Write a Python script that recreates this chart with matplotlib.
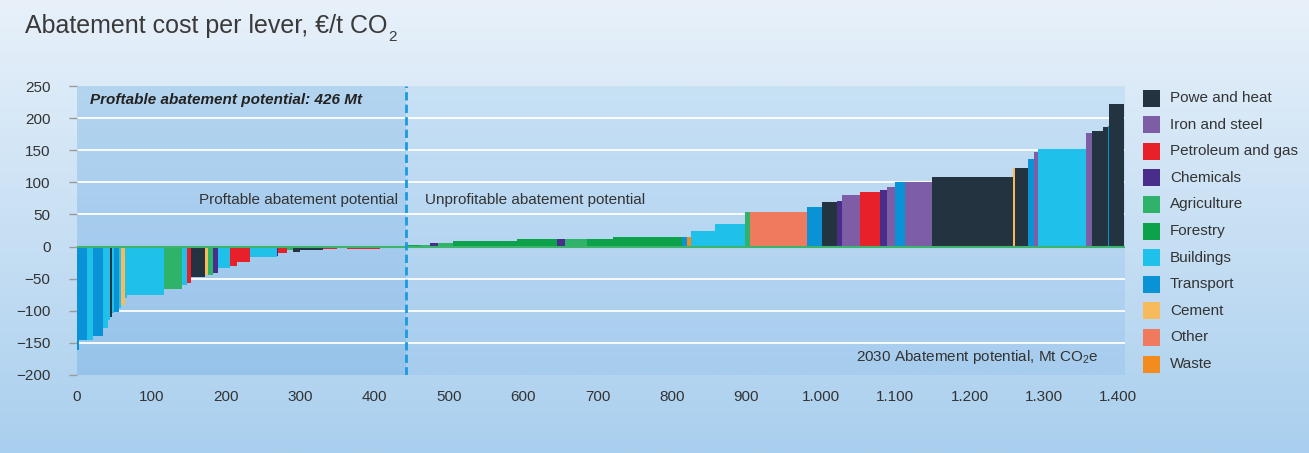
import matplotlib.pyplot as plt
import numpy as np
from matplotlib.colors import LinearSegmentedColormap
from matplotlib.patches import Rectangle

plt.rcParams['font.family'] = ['Liberation Sans', 'DejaVu Sans']
plt.rcParams['mathtext.fontset'] = 'custom'
plt.rcParams['mathtext.rm'] = 'Liberation Sans'
plt.rcParams['mathtext.it'] = 'Liberation Sans:italic'
plt.rcParams['mathtext.bf'] = 'Liberation Sans:bold'

# Levers in cost order: sector, width (Mt CO2e), cost (EUR/t)
sectors = [
    'Transport', 'Transport', 'Buildings', 'Transport', 'Buildings', 'Buildings', 'Power',
    'Buildings', 'Transport', 'Buildings', 'Cement', 'Buildings', 'Buildings', 'Agriculture',
    'Buildings', 'Petroleum', 'Power', 'Cement', 'Agriculture', 'Chemicals', 'Buildings',
    'Petroleum', 'Petroleum', 'Buildings', 'Chemicals', 'Petroleum', 'Agriculture', 'Power',
    'Power', 'Petroleum', 'Agriculture', 'Petroleum', 'Agriculture',
    'Forestry', 'Agriculture', 'Chemicals', 'Agriculture', 'Forestry', 'Forestry', 'Chemicals',
    'Agriculture', 'Forestry', 'Forestry', 'Transport', 'Waste', 'Buildings', 'Buildings',
    'Agriculture', 'Other', 'Transport', 'Power', 'Chemicals', 'Iron', 'Petroleum', 'Chemicals',
    'Iron', 'Transport', 'Iron', 'Power', 'Cement', 'Power', 'Transport', 'Iron', 'Buildings',
    'Iron', 'Power', 'Power', 'Transport', 'Power',
]
widths = [
    3, 10, 8, 14, 7, 3, 2, 3, 7, 2, 5, 3, 50, 24, 7, 5, 19, 4, 7, 7, 16, 9, 18, 36, 1, 12, 8,
    10, 31, 19, 13, 44, 34,
    20, 14, 10, 21, 86, 53, 11, 30, 35, 93, 6, 6, 32, 40, 7, 77, 20, 20, 7, 24, 27, 9, 11,
    13, 37, 109, 2, 18, 7, 6, 64, 8, 16, 6, 2, 19,
]
costs = [
    -161, -145, -145, -139, -127, -114, -110, -104, -102, -95, -91, -80, -75, -66, -60, -57,
    -47, -45, -44, -41, -33, -30, -24, -16, -14, -10, -5, -8, -5, -4, -2, -4, -1,
    2, 3, 5, 6, 8, 11, 11, 11, 12, 15, 15, 15, 24, 35, 54, 54, 62, 69, 71, 80, 85, 88, 93,
    101, 101, 109, 122, 122, 136, 147, 152, 177, 180, 186, 188, 222,
]

legend_keys = ['Power', 'Iron', 'Petroleum', 'Chemicals', 'Agriculture', 'Forestry',
               'Buildings', 'Transport', 'Cement', 'Other', 'Waste']
legend_labels = ['Powe and heat', 'Iron and steel', 'Petroleum and gas', 'Chemicals',
                 'Agriculture', 'Forestry', 'Buildings', 'Transport', 'Cement', 'Other', 'Waste']
sector_colors = {
    'Power': '#233440', 'Iron': '#7d5ea6', 'Petroleum': '#e8202a', 'Chemicals': '#4a2d8a',
    'Agriculture': '#2fb26a', 'Forestry': '#0ca14b', 'Buildings': '#1fc0ea',
    'Transport': '#0a92d6', 'Cement': '#f8bb5c', 'Other': '#f07a5e', 'Waste': '#f28c1f',
}

x_ticks = list(range(0, 1401, 100))
x_tick_labels = ['0', '100', '200', '300', '400', '500', '600', '700', '800', '900',
                 '1.000', '1.100', '1.200', '1.300', '1.400']
y_ticks = [-200, -150, -100, -50, 0, 50, 100, 150, 200, 250]
profitable_limit = 442

W, H = 1309, 453
fig = plt.figure(figsize=(W / 100, H / 100), dpi=100)

# figure background gradient
bg = fig.add_axes([0, 0, 1, 1], zorder=-10)
grad = np.linspace(0, 1, 256)[:, None]
bg.imshow(grad, aspect='auto', extent=[0, 1, 0, 1],
          cmap=LinearSegmentedColormap.from_list('bg', ['#e8f1fa', '#a9cfee']))
bg.axis('off')

ax = fig.add_axes([77 / W, 1 - 375 / H, (1125 - 77) / W, (375 - 86) / H])
ax.patch.set_visible(False)
x_max = 1409
ax.imshow(grad, aspect='auto', extent=[0, x_max, -200, 250], zorder=0,
          cmap=LinearSegmentedColormap.from_list('pa', ['#c8e1f5', '#a6ccee']))
ax.axvspan(0, profitable_limit, color='#3f8fd6', alpha=0.14, lw=0, zorder=0.5)

for y in [-150, -100, -50, 50, 100, 150, 200]:
    ax.axhline(y, color='white', lw=1.3, zorder=1)

lefts = np.concatenate([[0], np.cumsum(widths)[:-1]])
ax.bar(lefts, costs, width=widths, align='edge',
       color=[sector_colors[s] for s in sectors], lw=0, zorder=2)
ax.axhline(0, color='#3db36b', lw=1.5, zorder=3)
ax.axvline(profitable_limit, color='#1a9be0', lw=2, dashes=(3, 1.5), zorder=4)

ax.set_xlim(0, x_max)
ax.set_ylim(-200, 250)
for s in ax.spines.values():
    s.set_visible(False)
ax.set_xticks(x_ticks)
ax.set_xticklabels(x_tick_labels)
ax.set_yticks(y_ticks)
ax.tick_params(axis='x', length=0, pad=11, labelsize=11, labelcolor='#333333')
ax.tick_params(axis='y', length=6, width=1, color='#9a9a9a', pad=13, labelsize=11,
               labelcolor='#333333')

ax.text(17, 228, 'Proftable abatement potential: 426 Mt', fontsize=11, fontweight='bold',
        fontstyle='italic', color='#222222', va='center', zorder=5)
ax.text(432, 72, 'Proftable abatement potential', fontsize=11, color='#333333',
        ha='right', va='center', zorder=5)
ax.text(468, 72, 'Unprofitable abatement potential', fontsize=11, color='#333333',
        ha='left', va='center', zorder=5)
ax.text(1373, -172, r'2030 Abatement potential, Mt CO$_2$e', fontsize=11, color='#333333',
        ha='right', va='center', zorder=5)

# title with a low subscript
title = fig.text(25 / W, 1 - 33 / H, 'Abatement cost per lever, €/t CO', fontsize=18,
                 color='#3a3a3a', va='baseline')
fig.canvas.draw()
tb = title.get_window_extent()
fig.text((tb.x1 + 1) / W, 1 - 41 / H, '2', fontsize=11, color='#3a3a3a', va='baseline')

# legend
for i, (key, label) in enumerate(zip(legend_keys, legend_labels)):
    yc = 98 + i * 26.6
    fig.patches.append(Rectangle((1143 / W, 1 - (yc + 8.5) / H), 17 / W, 17 / H,
                                 transform=fig.transFigure, color=sector_colors[key], lw=0))
    fig.text(1170 / W, 1 - yc / H, label, fontsize=11, color='#333333', va='center')

fig.savefig('out.png', dpi=100)
